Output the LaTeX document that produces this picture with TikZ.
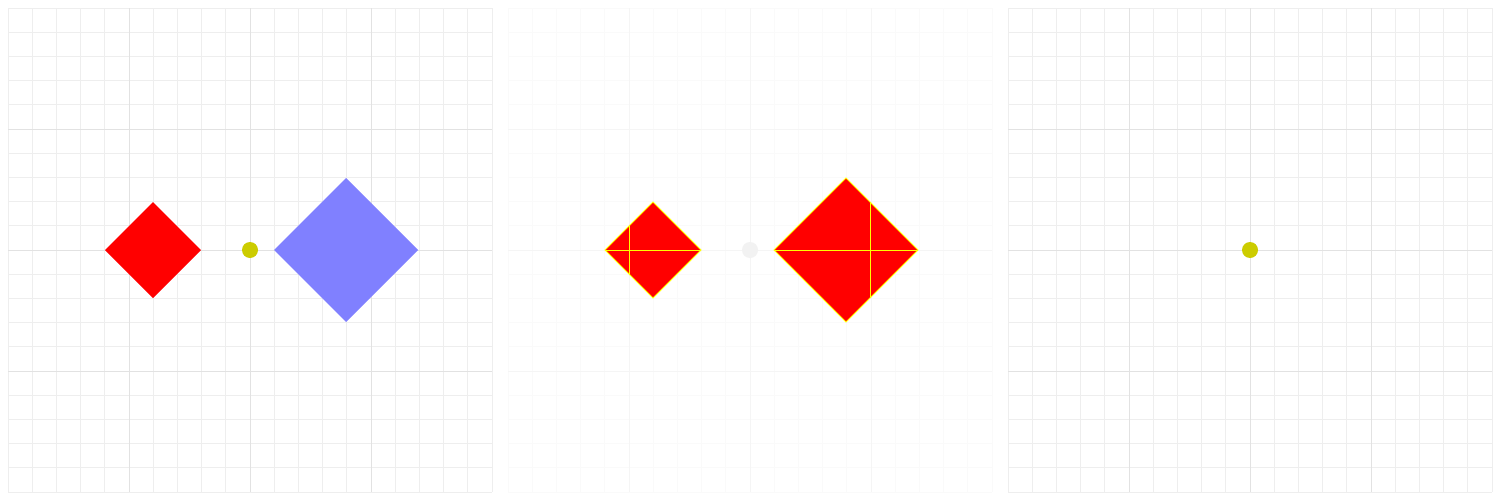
\documentclass[tikz,border=0pt]{standalone}
\usepackage{xcolor}
\definecolor{gridminor}{HTML}{EEEEEE}
\definecolor{gridmajor}{HTML}{E2E2E2}
\definecolor{gridfaint}{HTML}{FAFAFA}
\definecolor{gridfaintmaj}{HTML}{F5F5F5}
\definecolor{dotyellow}{HTML}{CCCC00}
\definecolor{dotgray}{HTML}{F2F2F2}
\definecolor{shapered}{HTML}{FF0000}
\definecolor{shapeblue}{HTML}{0000FF}
\definecolor{edgeyellow}{HTML}{FFFF00}

\begin{document}
\begin{tikzpicture}[
  x=0.2mm, y=-0.2mm,
  gridline/.style={draw=#1, line width=0.2mm},
  redshape/.style={fill=shapered},
  blueshape/.style={fill=shapeblue!50},
  meshshape/.style={fill=shapered, draw=edgeyellow, line width=0.2mm},
  meshline/.style={draw=edgeyellow, line width=0.2mm},
  pivot/.style={fill=#1},
]

% Background
\useasboundingbox (0,0) rectangle (1500,500);
\fill[white] (0,0) rectangle (1500,500);

% =============================================
% Grids of the three panels
% =============================================
\foreach \px/\minc/\majc in {8/gridminor/gridmajor, 508/gridfaint/gridfaintmaj, 1008/gridminor/gridmajor} {
  \foreach \i in {0,...,20} {
    \draw[gridline=\minc] (\px+\i*24.2, 8) -- (\px+\i*24.2, 492);
    \draw[gridline=\minc] (\px, 8+\i*24.2) -- (\px+484, 8+\i*24.2);
  }
  \foreach \i in {5,10,15} {
    \draw[gridline=\majc] (\px+\i*24.2, 8) -- (\px+\i*24.2, 492);
    \draw[gridline=\majc] (\px, 8+\i*24.2) -- (\px+484, 8+\i*24.2);
  }
}

% =============================================
% Panel 1: source and scaled copy
% =============================================
\fill[redshape] (105,250) -- (153,202) -- (201,250) -- (153,298) -- cycle;
\fill[blueshape] (274,250) -- (346,178) -- (418,250) -- (346,322) -- cycle;
\fill[pivot=dotyellow] (250,250) circle (8);

% =============================================
% Panel 2: triangulated result
% =============================================
\filldraw[meshshape] (605,250) -- (653,202) -- (701,250) -- (653,298) -- cycle;
\draw[meshline] (605,250) -- (701,250);
\draw[meshline] (629,226) -- (629,274);

\filldraw[meshshape] (774,250) -- (846,178) -- (918,250) -- (846,322) -- cycle;
\draw[meshline] (774,250) -- (918,250);
\draw[meshline] (870,202) -- (870,298);

\fill[pivot=dotgray] (750,250) circle (8);

% =============================================
% Panel 3: pivot only
% =============================================
\fill[pivot=dotyellow] (1250,250) circle (8);

\end{tikzpicture}
\end{document}
